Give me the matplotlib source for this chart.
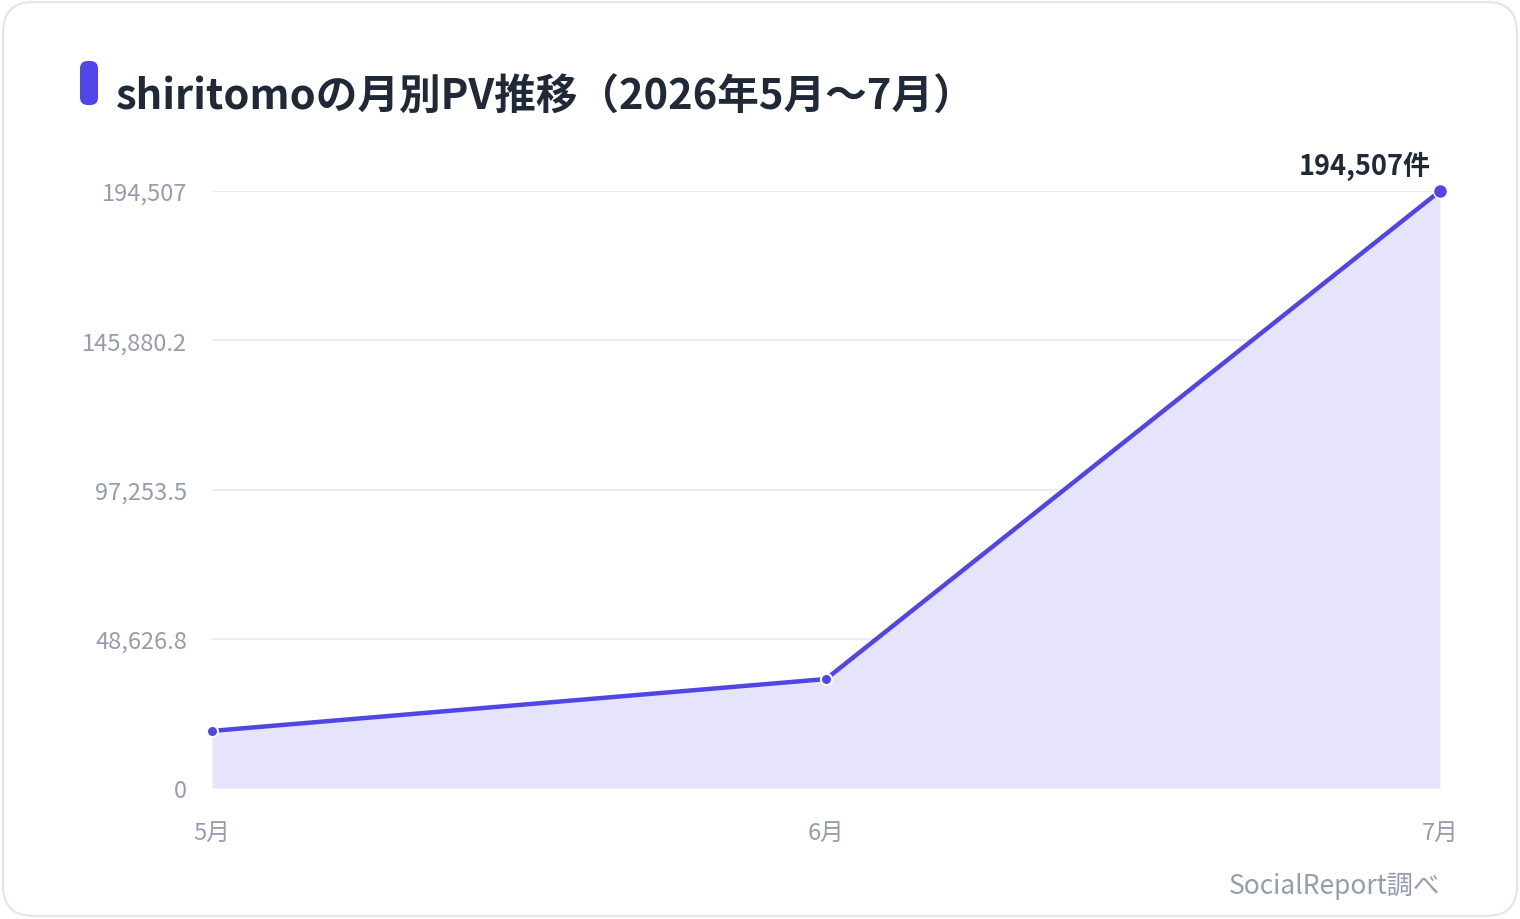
import matplotlib
matplotlib.use('Agg')
import matplotlib.pyplot as plt
from matplotlib.patches import FancyBboxPatch

plt.rcParams['font.family'] = ['Noto Sans CJK JP', 'DejaVu Sans']

months = ['5月', '6月', '7月']
pv = [18600, 35500, 194507]
yticks = [0, 48626.8, 97253.5, 145880.2, 194507]
ytick_labels = ['0', '48,626.8', '97,253.5', '145,880.2', '194,507']

title = 'shiritomoの月別PV推移（2026年5月〜7月）'
source = 'SocialReport調べ'

line_color = '#4f46e5'
fill_color = '#e6e4fa'
tick_color = '#959cb0'
text_color = '#1f2937'
grid_color = '#e8e8ef'

fig = plt.figure(figsize=(15.2, 9.2), dpi=100)
fig.patch.set_facecolor('white')

# card border
card = FancyBboxPatch((3 / 1520, 3 / 920), 1514 / 1520, 914 / 920,
                      boxstyle='round,pad=0,rounding_size=0.02',
                      transform=fig.transFigure, facecolor='white',
                      edgecolor='#e2e4ec', linewidth=1.5,
                      mutation_aspect=1520 / 920, zorder=-5)
fig.patches.append(card)

# title accent bar
bar = FancyBboxPatch((80 / 1520, (920 - 106) / 920), 18 / 1520, 44 / 920,
                     boxstyle='round,pad=0,rounding_size=0.005',
                     transform=fig.transFigure, facecolor=line_color,
                     edgecolor='none', mutation_aspect=1520 / 920)
fig.patches.append(bar)
fig.text(116 / 1520, (920 - 98) / 920, title, fontsize=30, fontweight='bold',
         color=text_color, va='center', ha='left')

ax = fig.add_axes([212 / 1520, (920 - 789) / 920, 1228 / 1520, 597 / 920])
ax.patch.set_alpha(0)
x = list(range(len(months)))
ax.fill_between(x, pv, 0, color=fill_color, linewidth=0, zorder=1)
ax.plot(x, pv, color=line_color, linewidth=3.2, zorder=3, solid_capstyle='round')
ax.plot(x[:-1], pv[:-1], 'o', color=line_color, markersize=8,
        markeredgecolor='white', markeredgewidth=1.5, zorder=4, clip_on=False)
ax.plot(x[-1], pv[-1], 'o', color=line_color, markersize=10,
        markeredgecolor='white', markeredgewidth=1, zorder=4, clip_on=False)

ax.annotate(f'{pv[-1]:,}件', (x[-1], pv[-1]), xytext=(-9, 26),
            textcoords='offset pixels', ha='right', va='center',
            fontsize=19.5, fontweight='bold', color=text_color)

ax.set_xlim(0, len(months) - 1)
ax.set_ylim(0, max(yticks))
ax.set_yticks(yticks)
ax.set_yticklabels(ytick_labels)
ax.set_xticks(x)
ax.set_xticklabels(months)
ax.tick_params(axis='y', length=0, pad=18, labelsize=17, labelcolor=tick_color)
ax.tick_params(axis='x', length=0, pad=24, labelsize=17, labelcolor=tick_color)
ax.grid(axis='y', color=grid_color, linewidth=1.2, zorder=0)
ax.set_axisbelow(True)
for s in ax.spines.values():
    s.set_visible(False)

fig.text(1440 / 1520, (920 - 886) / 920, source, fontsize=19, color=tick_color,
         ha='right', va='center')

fig.savefig('out.png', dpi=100, facecolor='white')
